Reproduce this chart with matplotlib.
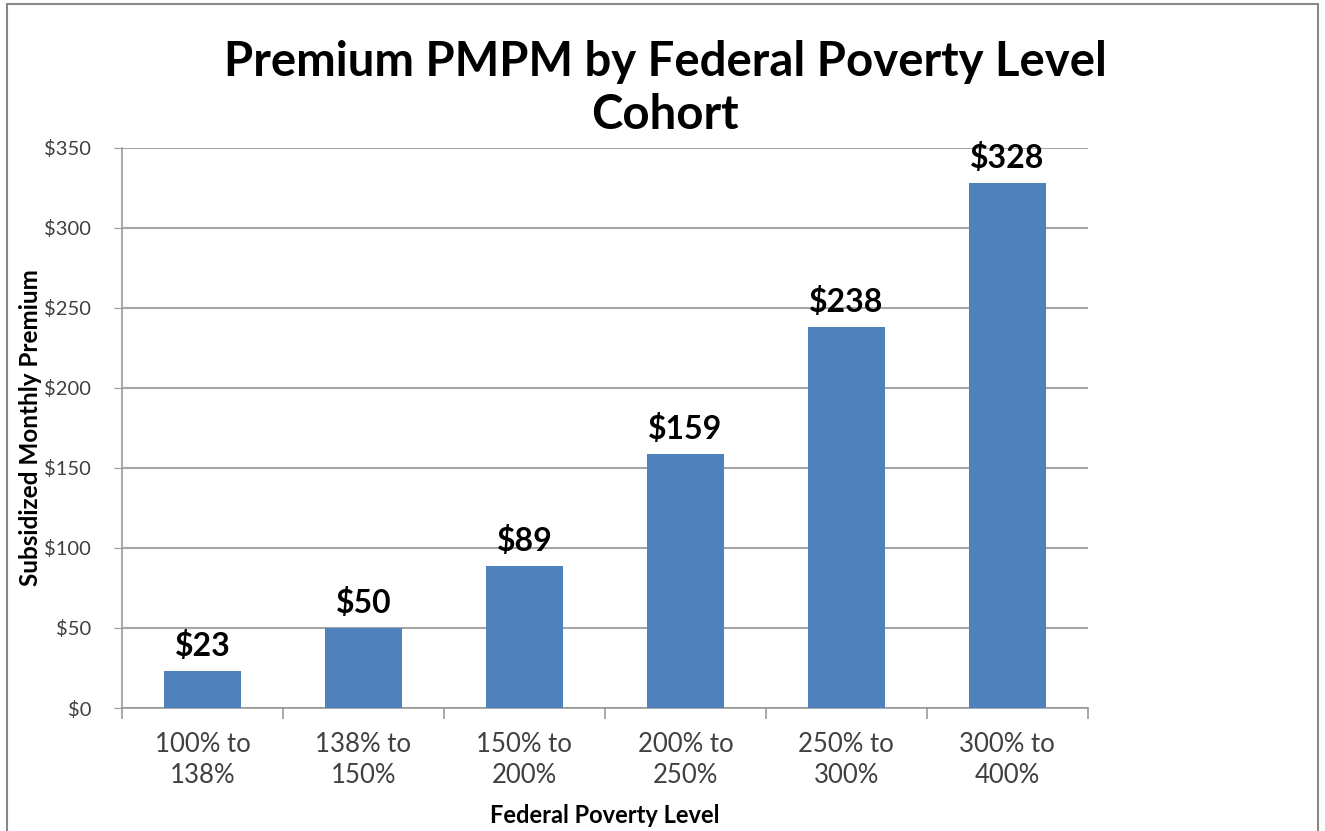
import matplotlib
matplotlib.use('Agg')
import matplotlib.pyplot as plt
import matplotlib.patches as patches

categories = ['100% to\n138%', '138% to\n150%', '150% to\n200%',
              '200% to\n250%', '250% to\n300%', '300% to\n400%']
premiums = [23, 50, 89, 159, 238, 328]
y_ticks = [0, 50, 100, 150, 200, 250, 300, 350]

plt.rcParams['font.family'] = ['Lato', 'DejaVu Sans']

fig = plt.figure(figsize=(13.25, 8.31), dpi=100)
ax = fig.add_axes([0.092, 0.148, 0.729, 0.674])

x = list(range(len(categories)))
ax.bar(x, premiums, width=0.48, color='#4F81BD', zorder=3)

# value labels above bars
for xi, v in zip(x, premiums):
    ax.annotate('$%d' % v, (xi, v), xytext=(0, 7), textcoords='offset points',
                ha='center', va='bottom', fontsize=23, fontweight='bold', color='black')

ax.set_xlim(-0.5, len(categories) - 0.5)
ax.set_ylim(0, 350)
ax.set_yticks(y_ticks)
ax.set_yticklabels(['$%d' % t for t in y_ticks], fontsize=14.5, color='#404040')
ax.set_xticks(x)
ax.set_xticklabels(categories, fontsize=18.5, color='#404040', linespacing=1.3)
ax.tick_params(axis='x', length=0, pad=17)
ax.tick_params(axis='y', length=6, color='#999999', pad=16)

# ticks between categories
ax.set_xticks([i - 0.5 for i in range(len(categories) + 1)], minor=True)
ax.tick_params(axis='x', which='minor', length=8, color='#999999', width=1.2)

ax.grid(axis='y', color='#a6a6a6', linewidth=1.5, zorder=0)
for side in ['top', 'right']:
    ax.spines[side].set_visible(False)
ax.spines['left'].set_color('#999999')
ax.spines['bottom'].set_color('#999999')
ax.spines['left'].set_linewidth(1.2)
ax.spines['bottom'].set_linewidth(1.2)

ax.set_ylabel('Subsidized Monthly Premium', fontsize=17.5, fontweight='bold')
ax.yaxis.set_label_coords(-0.083, 0.5)
ax.set_xlabel('Federal Poverty Level', fontsize=17, fontweight='bold')
ax.xaxis.set_label_coords(0.5, -0.172)

fig.text(0.502, 0.952, 'Premium PMPM by Federal Poverty Level\nCohort', ha='center', va='top',
         fontsize=34, fontweight='bold', linespacing=1.25)

# outer frame
fig.patches.append(patches.Rectangle((0.005, -0.01), 0.99, 1.005, transform=fig.transFigure,
                                     fill=False, edgecolor='#888888', linewidth=1.5))

fig.savefig('out.png', dpi=100)
